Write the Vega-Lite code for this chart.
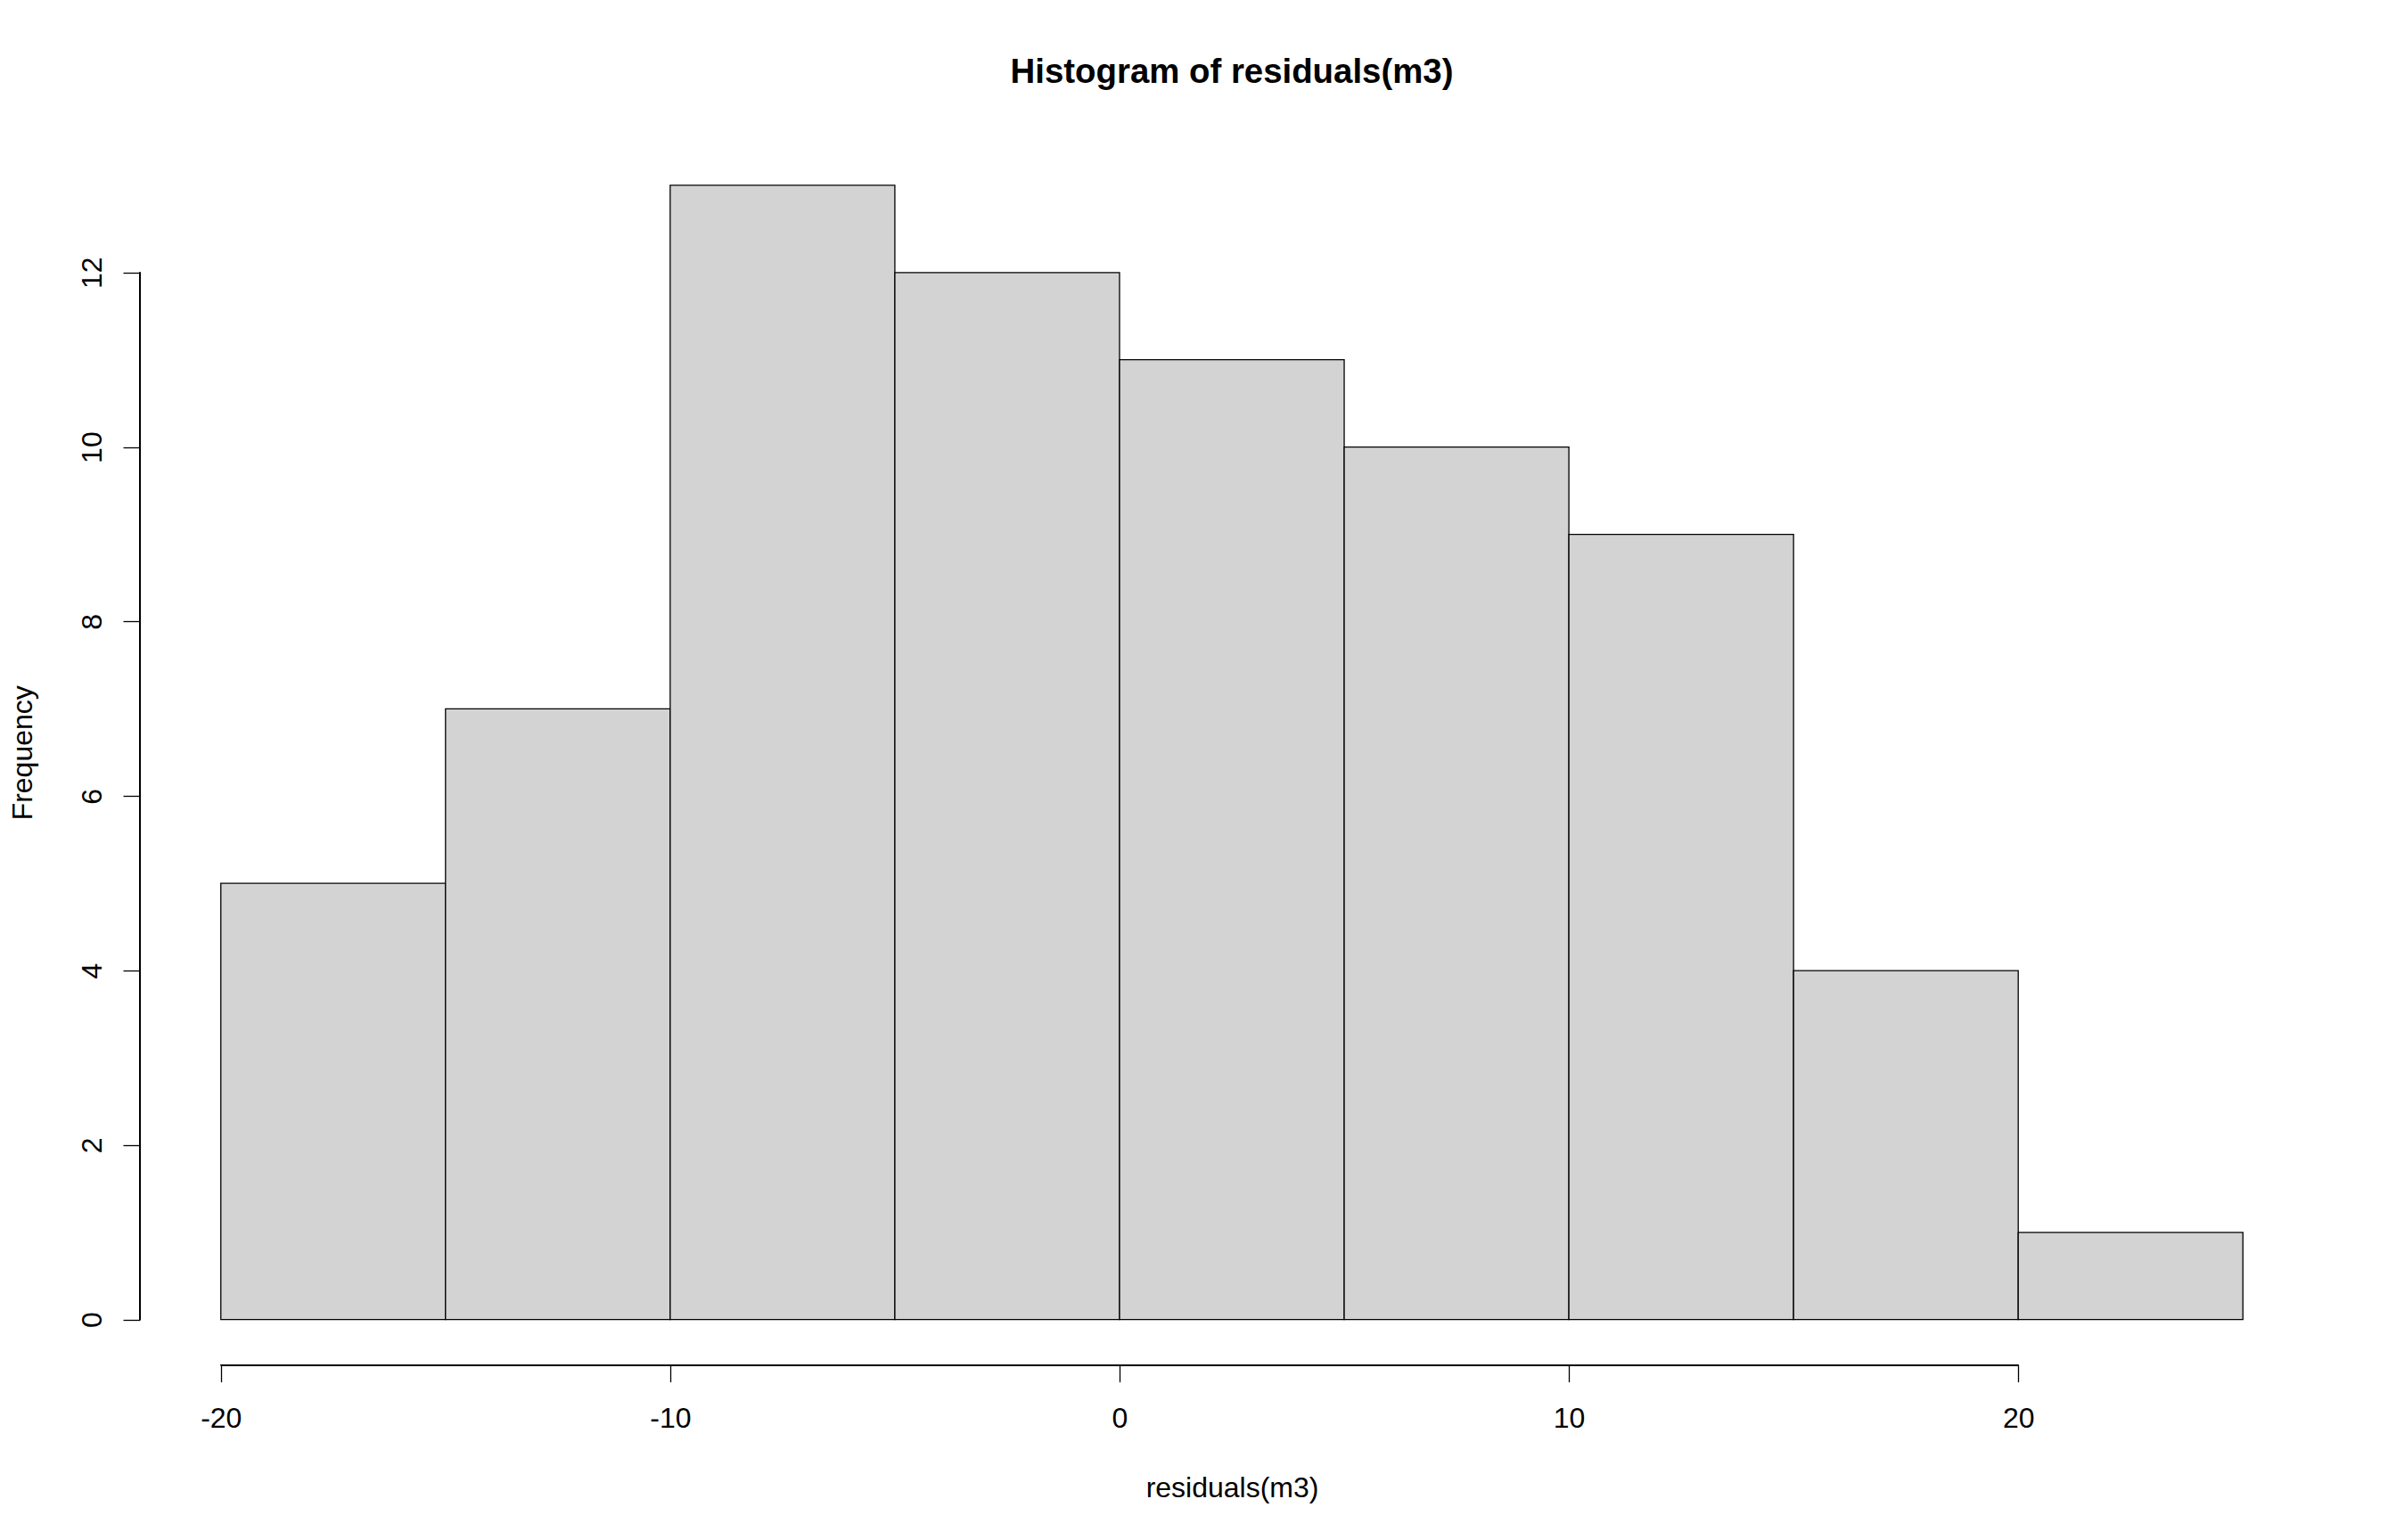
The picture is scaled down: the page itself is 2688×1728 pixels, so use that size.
{
  "$schema": "https://vega.github.io/schema/vega-lite/v6.json",
  "autosize": {"type": "none"},
  "padding": {"left": 157, "top": 157, "right": 81, "bottom": 196},
  "width": 2450,
  "height": 1374.6,
  "background": "white",
  "title": {
    "text": "Histogram of residuals(m3)",
    "font": "Liberation Sans",
    "fontSize": 38.4,
    "fontWeight": "bold",
    "color": "black",
    "anchor": "middle",
    "baseline": "alphabetic",
    "offset": 26
  },
  "config": {
    "view": {"stroke": null},
    "axis": {
      "labelFont": "Liberation Sans",
      "titleFont": "Liberation Sans",
      "labelFontSize": 32,
      "titleFontSize": 32,
      "titleFontWeight": "normal",
      "labelColor": "black",
      "titleColor": "black",
      "tickColor": "black",
      "tickWidth": 1.3,
      "tickSize": 19,
      "grid": false,
      "domain": false
    }
  },
  "data": {
    "values": [
      {"bin_start": -20, "bin_end": -15, "count": 5},
      {"bin_start": -15, "bin_end": -10, "count": 7},
      {"bin_start": -10, "bin_end": -5, "count": 13},
      {"bin_start": -5, "bin_end": 0, "count": 12},
      {"bin_start": 0, "bin_end": 5, "count": 11},
      {"bin_start": 5, "bin_end": 10, "count": 10},
      {"bin_start": 10, "bin_end": 15, "count": 9},
      {"bin_start": 15, "bin_end": 20, "count": 4},
      {"bin_start": 20, "bin_end": 25, "count": 1}
    ]
  },
  "layer": [
    {
      "mark": {"type": "rect", "fill": "#D3D3D3", "stroke": "black", "strokeWidth": 1.3},
      "encoding": {
        "x": {
          "field": "bin_start",
          "type": "quantitative",
          "scale": {"domain": [-21.8, 26.8], "nice": false, "zero": false},
          "axis": {
            "values": [-20, -10, 0, 10, 20],
            "title": "residuals(m3)",
            "labelExpr": "datum.value < 0 ? '-' + abs(datum.value) : '' + datum.value",
            "labelBaseline": "alphabetic",
            "labelPadding": 51,
            "labelFlush": false,
            "titleBaseline": "alphabetic",
            "titleY": 148,
            "titleX": 1225
          }
        },
        "x2": {"field": "bin_end"},
        "y": {
          "field": "count",
          "type": "quantitative",
          "scale": {"domain": [-0.52, 13.52], "nice": false, "zero": false},
          "axis": {
            "values": [0, 2, 4, 6, 8, 10, 12],
            "title": "Frequency",
            "labelExpr": "'' + datum.value",
            "labelAngle": -90,
            "labelAlign": "center",
            "labelBaseline": "alphabetic",
            "labelPadding": 25,
            "labelFlush": false,
            "titleAngle": -90,
            "titleBaseline": "alphabetic",
            "titleAlign": "center",
            "titleX": -122,
            "titleY": 687.3
          }
        },
        "y2": {"datum": 0}
      }
    },
    {
      "mark": {"type": "rule", "color": "black", "strokeWidth": 1.3},
      "encoding": {
        "x": {"datum": -20, "type": "quantitative"},
        "x2": {"datum": 20},
        "y": {"datum": -0.52, "type": "quantitative"}
      }
    },
    {
      "mark": {"type": "rule", "color": "black", "strokeWidth": 1.3},
      "encoding": {
        "x": {"datum": -21.8, "type": "quantitative"},
        "y": {"datum": 0, "type": "quantitative"},
        "y2": {"datum": 12}
      }
    }
  ]
}
